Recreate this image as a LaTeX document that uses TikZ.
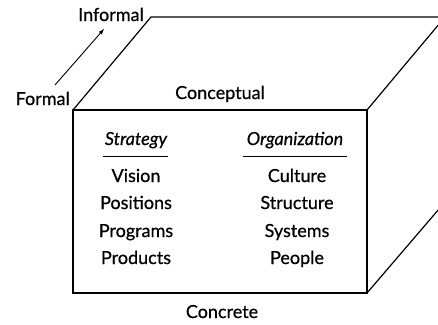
\documentclass[tikz,border=0pt]{standalone}
\usepackage{fontspec}
\setmainfont{Lato}[FakeBold=0.6]
\usetikzlibrary{arrows,positioning,calc}

\begin{document}
\begin{tikzpicture}[x=1pt, y=-1pt,
            edge/.style={line width=1.2pt, color=black},
            label/.style={font=\fontsize{18}{20}\selectfont, inner sep=0pt},
            item/.style={font=\fontsize{18}{20}\selectfont, inner sep=0pt, anchor=base},
            head/.style={font=\fontsize{18}{20}\selectfont\itshape, inner sep=0pt, anchor=base},
            arrow/.style={-latex, line width=0.9pt}
        ]
            \useasboundingbox (0,0) rectangle (438,324);

            % Cube corners
            \coordinate (ftl) at (73,110);
            \coordinate (ftr) at (367,110);
            \coordinate (fbr) at (367,293);
            \coordinate (fbl) at (73,293);
            \coordinate (btl) at (151,17);
            \coordinate (btr) at (445,17);
            \coordinate (bbr) at (445,202);

            % Cube edges
            \draw[edge] (ftl) rectangle (fbr);
            \draw[edge] (ftl) -- (btl) -- (btr);
            \draw[edge] (ftr) -- (btr);
            \draw[edge] (fbr) -- (bbr);

            % Axis labels
            \node[label, anchor=base east] (formal) at (70,105) {Formal};
            \node[label, anchor=base east] (informal) at (144,21) {Informal};
            \coordinate (arrfrom) at (55,85);
            \coordinate (arrto) at (104,29);
            \draw[arrow] (arrfrom) -- (arrto);

            \node[label, anchor=base] (conceptual) at (220,99) {Conceptual};
            \node[label, anchor=base] (concrete) at (222,318) {Concrete};

            % Column headings
            \node[head] (strategy) at (136,145) {Strategy};
            \node[head] (organization) at (295,145) {Organization};
            \draw[line width=0.9pt] (103,156) -- (168,156);
            \draw[line width=0.9pt] (243,156) -- (347,156);

            % Strategy column
            \node[item] (vision) at (136,182) {Vision};
            \node[item] (positions) at (136,209) {Positions};
            \node[item] (programs) at (136,237) {Programs};
            \node[item] (products) at (136,264) {Products};

            % Organization column
            \node[item] (culture) at (297,182) {Culture};
            \node[item] (structure) at (297,209) {Structure};
            \node[item] (systems) at (297,237) {Systems};
            \node[item] (people) at (297,264) {People};
        \end{tikzpicture}
\end{document}
